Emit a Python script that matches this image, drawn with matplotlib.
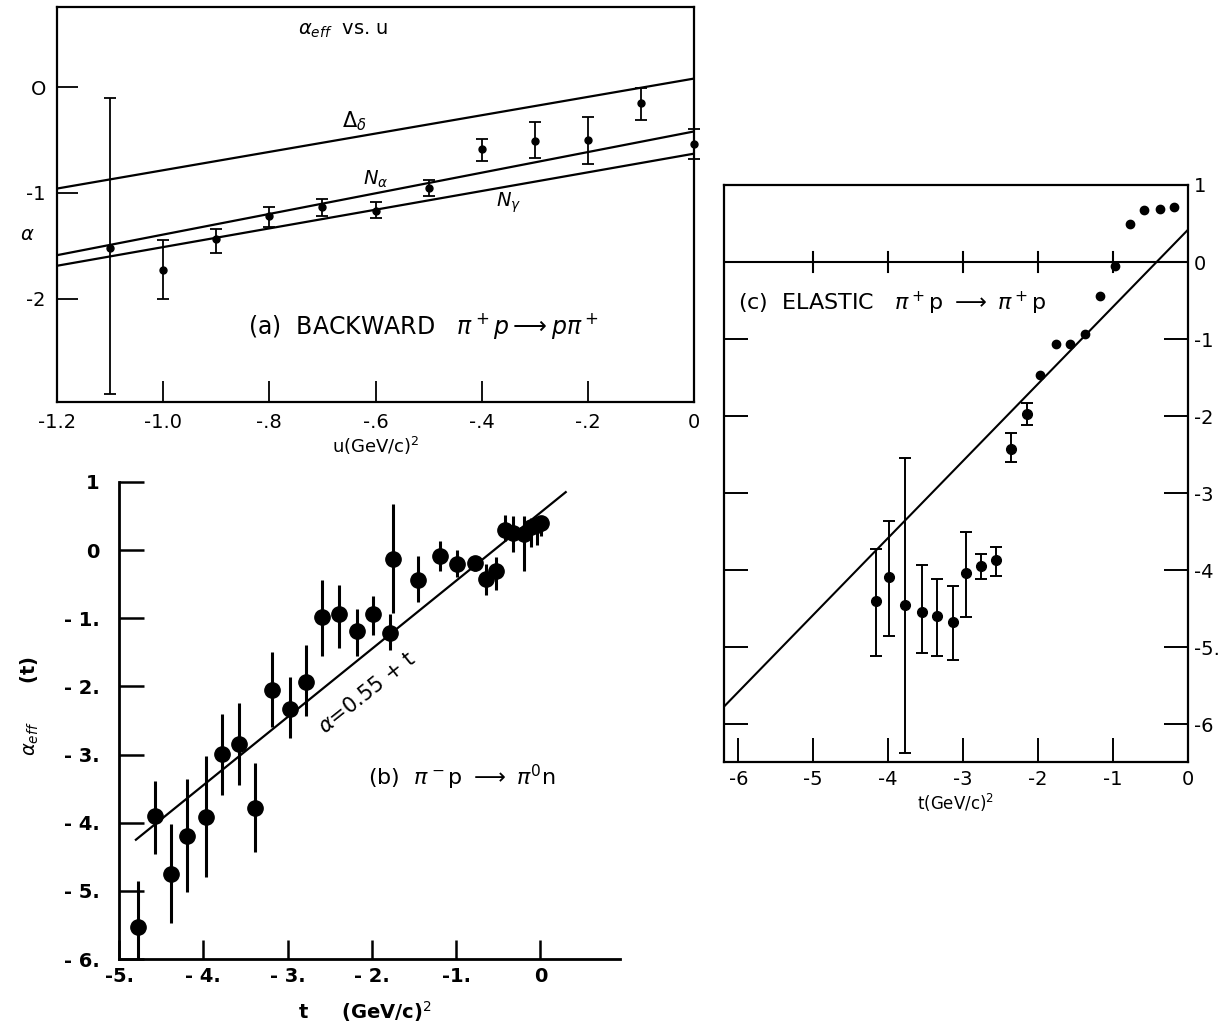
import matplotlib.pyplot as plt

plt.rcParams['font.family'] = ['DejaVu Sans']
plt.rcParams['mathtext.fontset'] = 'dejavusans'

# (a) backward pi+ p -> p pi+ , alpha_eff vs u
u_a = [-1.1, -1.0, -0.9, -0.8, -0.7, -0.6, -0.5, -0.4, -0.3, -0.2, -0.1, 0.0]
alpha_a = [-1.52, -1.73, -1.44, -1.22, -1.13, -1.17, -0.95, -0.59, -0.51, -0.50, -0.15, -0.54]
lo_a = [-2.90, -2.00, -1.57, -1.32, -1.22, -1.24, -1.03, -0.70, -0.67, -0.73, -0.31, -0.68]
hi_a = [-0.10, -1.45, -1.34, -1.13, -1.06, -1.09, -0.88, -0.49, -0.33, -0.28, -0.01, -0.40]
u_line = [-1.2, 0.0]
delta_line = [-0.96, 0.08]
nalpha_line = [-1.59, -0.42]
ngamma_line = [-1.69, -0.63]
a_xticks = [-1.2, -1.0, -0.8, -0.6, -0.4, -0.2, 0.0]
a_xlabels = ['-1.2', '-1.0', '-.8', '-.6', '-.4', '-.2', '0']
a_yticks = [0, -1, -2]
a_ylabels = ['O', '-1', '-2']

# (b) pi- p -> pi0 n
t_b = [-4.77, -4.57, -4.38, -4.19, -3.97, -3.78, -3.58, -3.39, -3.18, -2.97, -2.78,
       -2.59, -2.39, -2.18, -1.99, -1.78, -1.75, -1.45, -1.19, -0.99, -0.78, -0.65,
       -0.53, -0.42, -0.33, -0.20, -0.11, -0.04, 0.01]
alpha_b = [-5.53, -3.90, -4.75, -4.20, -3.91, -2.99, -2.85, -3.78, -2.05, -2.33, -1.93,
           -0.98, -0.94, -1.19, -0.94, -1.21, -0.13, -0.44, -0.09, -0.21, -0.19, -0.42,
           -0.30, 0.29, 0.25, 0.24, 0.34, 0.37, 0.39]
lo_b = [-6.30, -4.46, -5.47, -5.01, -4.80, -3.60, -3.44, -4.43, -2.60, -2.76, -2.44,
        -1.55, -1.44, -1.56, -1.24, -1.47, -0.92, -0.76, -0.30, -0.39, -0.31, -0.66,
        -0.58, 0.13, -0.03, -0.31, 0.05, 0.08, 0.20]
hi_b = [-4.86, -3.39, -4.02, -3.36, -3.02, -2.40, -2.24, -3.12, -1.50, -1.86, -1.39,
        -0.44, -0.51, -0.87, -0.68, -0.94, 0.68, -0.09, 0.13, 0.00, -0.09, -0.21,
        -0.10, 0.52, 0.50, 0.50, 0.47, 0.45, 0.50]
t_fit_b = [-4.8, 0.3]
fit_intercept_b = 0.55
b_xticks = [-5, -4, -3, -2, -1, 0]
b_xlabels = ['-5.', '- 4.', '- 3.', '- 2.', '-1.', '0']
b_yticks = [1, 0, -1, -2, -3, -4, -5, -6]
b_ylabels = ['1', '0', '- 1.', '- 2.', '- 3.', '- 4.', '- 5.', '- 6.']

# (c) elastic pi+ p -> pi+ p
t_c_err = [-4.16, -3.99, -3.78, -3.55, -3.35, -3.14, -2.96, -2.76, -2.56, -2.36, -2.15]
alpha_c_err = [-4.40, -4.09, -4.45, -4.54, -4.59, -4.67, -4.04, -3.95, -3.87, -2.43, -1.97]
lo_c = [-5.12, -4.86, -6.37, -5.08, -5.11, -5.17, -4.61, -4.11, -4.08, -2.59, -2.11]
hi_c = [-3.73, -3.36, -2.55, -3.93, -4.11, -4.20, -3.51, -3.79, -3.70, -2.22, -1.83]
t_c = [-1.97, -1.76, -1.57, -1.37, -1.18, -0.98, -0.78, -0.59, -0.38, -0.19]
alpha_c = [-1.46, -1.07, -1.07, -0.94, -0.44, -0.05, 0.49, 0.68, 0.69, 0.72]
t_line_c = [-6.2, 0.0]
alpha_line_c = [-5.78, 0.42]
c_xticks = [-6, -5, -4, -3, -2, -1, 0]
c_yticks = [1, 0, -1, -2, -3, -4, -5, -6]
c_ylabels = ['1', '0', '-1', '-2', '-3', '-4', '-5.', '-6']

fig = plt.figure(figsize=(12.21, 10.26), dpi=100)

# ---- panel (a)
axa = fig.add_axes([0.0467, 0.608, 0.5217, 0.385])
lo = [a - l for a, l in zip(alpha_a, lo_a)]
hi = [h - a for a, h in zip(alpha_a, hi_a)]
axa.errorbar(u_a, alpha_a, yerr=[lo, hi], fmt='o', color='black', ms=5,
             elinewidth=1.3, capsize=4, capthick=1.3, clip_on=False)
axa.plot(u_line, delta_line, color='black', lw=1.6)
axa.plot(u_line, nalpha_line, color='black', lw=1.6)
axa.plot(u_line, ngamma_line, color='black', lw=1.6)
axa.set_xlim(-1.2, 0)
axa.set_ylim(-2.98, 0.755)
axa.set_xticks(a_xticks, a_xlabels)
axa.set_yticks(a_yticks, a_ylabels)
axa.tick_params(direction='in', length=15, width=1.3, labelsize=14, pad=8)
axa.text(-0.66, 0.53, r'$\alpha_{eff}$  vs. u', fontsize=14, ha='center', va='center')
axa.text(-0.64, -0.32, r'$\Delta_\delta$', fontsize=15, ha='center', va='center')
axa.text(-0.60, -0.87, r'$N_\alpha$', fontsize=14, ha='center', va='center')
axa.text(-0.35, -1.09, r'$N_\gamma$', fontsize=14, ha='center', va='center')
axa.text(-0.84, -2.26, r'(a)  BACKWARD   $\pi^+p \longrightarrow p\pi^+$', fontsize=17,
         ha='left', va='center')
axa.set_xlabel(r'u(GeV/c)$^2$', fontsize=13, labelpad=2)
axa.set_ylabel(r'$\alpha$', fontsize=14, rotation=0)
axa.yaxis.set_label_coords(-0.047, 0.40)
for s in axa.spines.values():
    s.set_linewidth(1.6)

# ---- panel (b)
axb = fig.add_axes([0.0975, 0.0653, 0.41, 0.465])
lo = [a - l for a, l in zip(alpha_b, lo_b)]
hi = [h - a for a, h in zip(alpha_b, hi_b)]
axb.errorbar(t_b, alpha_b, yerr=[lo, hi], fmt='o', color='black', ms=11,
             elinewidth=2.2, capsize=0)
axb.plot(t_fit_b, [fit_intercept_b + t for t in t_fit_b], color='black', lw=1.6)
axb.set_xlim(-5, 0.94)
axb.set_ylim(-6, 1)
axb.set_xticks(b_xticks, b_xlabels)
axb.set_yticks(b_yticks, b_ylabels)
axb.tick_params(axis='y', direction='in', length=18, width=1.8, labelsize=14, pad=14)
axb.tick_params(axis='x', direction='in', length=14, width=1.8, labelsize=14, pad=6)
for lab in axb.get_xticklabels() + axb.get_yticklabels():
    lab.set_fontweight('bold')
axb.spines['top'].set_visible(False)
axb.spines['right'].set_visible(False)
axb.spines['left'].set_linewidth(2)
axb.spines['bottom'].set_linewidth(2)
axb.text(-2.05, -2.1, r'$\alpha$=0.55 + t', fontsize=15, rotation=38.5,
         ha='center', va='center', rotation_mode='anchor')
axb.text(-2.05, -3.33, r'(b)  $\pi^-$p $\longrightarrow$ $\pi^0$n', fontsize=16,
         ha='left', va='center')
axb.set_xlabel(r't     (GeV/c)$^2$', fontsize=14, fontweight='bold')
axb.xaxis.set_label_coords(0.49, -0.085)
axb.set_ylabel(r'$\alpha_{eff}$      (t)', fontsize=14, fontweight='bold')
axb.yaxis.set_label_coords(-0.155, 0.53)

# ---- panel (c)
axc = fig.add_axes([0.593, 0.2573, 0.380, 0.5624])
lo = [a - l for a, l in zip(alpha_c_err, lo_c)]
hi = [h - a for a, h in zip(alpha_c_err, hi_c)]
axc.errorbar(t_c_err, alpha_c_err, yerr=[lo, hi], fmt='o', color='black', ms=7,
             elinewidth=1.4, capsize=4, capthick=1.4)
axc.plot(t_c, alpha_c, 'o', color='black', ms=6)
axc.plot(t_line_c, alpha_line_c, color='black', lw=1.5)
axc.axhline(0, color='black', lw=1.5)
for t in c_xticks[1:-1]:
    axc.plot([t, t], [-0.13, 0.13], color='black', lw=1.5)
axc.set_xlim(-6.19, 0)
axc.set_ylim(-6.49, 1.0)
axc.set_xticks(c_xticks, [str(t) for t in c_xticks])
axc.set_yticks(c_yticks, c_ylabels)
axc.tick_params(axis='y', direction='in', length=17, width=1.4, labelsize=14,
                left=True, right=True, labelleft=False, labelright=True, pad=4)
axc.tick_params(axis='x', direction='in', length=17, width=1.4, labelsize=14, pad=6)
axc.text(-6.0, -0.54, r'(c)  ELASTIC   $\pi^+$p $\longrightarrow$ $\pi^+$p', fontsize=16,
         ha='left', va='center')
axc.set_xlabel(r't(GeV/c)$^2$', fontsize=12, labelpad=2)
for s in axc.spines.values():
    s.set_linewidth(1.6)

fig.savefig('out.png', dpi=100)
